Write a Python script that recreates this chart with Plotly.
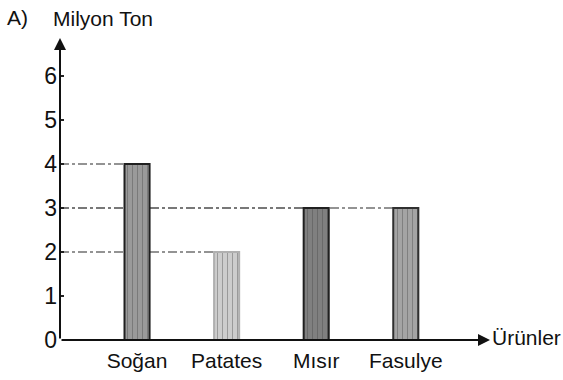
import plotly.graph_objects as go

# Ürün üretimi (milyon ton)
urunler = ["Soğan", "Patates", "Mısır", "Fasulye"]
degerler = [4, 2, 3, 3]
dolgu = ["#9a9a9a", "#cdcdcd", "#808080", "#a4a4a4"]
cizgi = ["#202020", "#b0b0b0", "#202020", "#303030"]
y_etiketler = [0, 1, 2, 3, 4, 5, 6]

x_min, x_max = -0.86, 3.94
y_max = 6.86
bar_w = 0.28

fig = go.Figure(go.Bar(
    x=list(range(len(urunler))),
    y=degerler,
    width=bar_w,
    marker=dict(
        color=dolgu,
        line=dict(color=cizgi, width=2),
        pattern=dict(shape="|", fgcolor="#555555", size=5, solidity=0.15),
    ),
    hoverinfo="skip",
))

# Kesik-noktalı yardımcı çizgiler: eksenden çubuğun sol kenarına
for i, v in enumerate(degerler):
    fig.add_shape(type="line", xref="x", yref="y",
                  x0=x_min, x1=i - bar_w / 2, y0=v, y1=v,
                  line=dict(color="#707070", width=1.5, dash="dashdot"),
                  layer="below")

# Eksen okları
fig.add_annotation(x=x_min, y=y_max, ax=x_min, ay=0, xref="x", yref="y",
                   axref="x", ayref="y", showarrow=True, arrowhead=2,
                   arrowsize=1.2, arrowwidth=2, arrowcolor="#111", text="")
fig.add_annotation(x=x_max, y=0, ax=x_min, ay=0, xref="x", yref="y",
                   axref="x", ayref="y", showarrow=True, arrowhead=2,
                   arrowsize=1.2, arrowwidth=2, arrowcolor="#111", text="")

fig.add_annotation(text="Milyon Ton", xref="paper", yref="paper",
                   x=-0.02, y=1.0, yshift=20, xanchor="left", yanchor="middle",
                   showarrow=False, font=dict(size=21, color="#111"))
fig.add_annotation(text="A)", xref="paper", yref="paper",
                   x=-0.128, y=1.0, yshift=21, xanchor="left", yanchor="middle",
                   showarrow=False, font=dict(size=21, color="#111"))
fig.add_annotation(text="Ürünler", xref="paper", yref="y",
                   x=1.0, xshift=0, y=0, yshift=3, xanchor="left", yanchor="middle",
                   showarrow=False, font=dict(size=21, color="#111"))

fig.update_layout(
    width=563, height=380,
    margin=dict(l=60, r=73, t=38, b=40),
    paper_bgcolor="white", plot_bgcolor="white",
    font=dict(family="Liberation Sans, Arial, sans-serif", color="#111"),
    showlegend=False,
    xaxis=dict(range=[x_min, x_max], tickmode="array",
               tickvals=list(range(len(urunler))), ticktext=urunler,
               showgrid=False, zeroline=False, showline=False, automargin=False,
               ticks="", tickfont=dict(size=21), ticklabelstandoff=6),
    yaxis=dict(range=[0, y_max], tickmode="array", tickvals=y_etiketler,
               showgrid=False, zeroline=False, showline=False, automargin=False,
               ticks="inside", ticklen=4, tickwidth=1.5, tickcolor="#222",
               tickfont=dict(size=23), ticklabelstandoff=2),
)

fig.write_html("out.html")
